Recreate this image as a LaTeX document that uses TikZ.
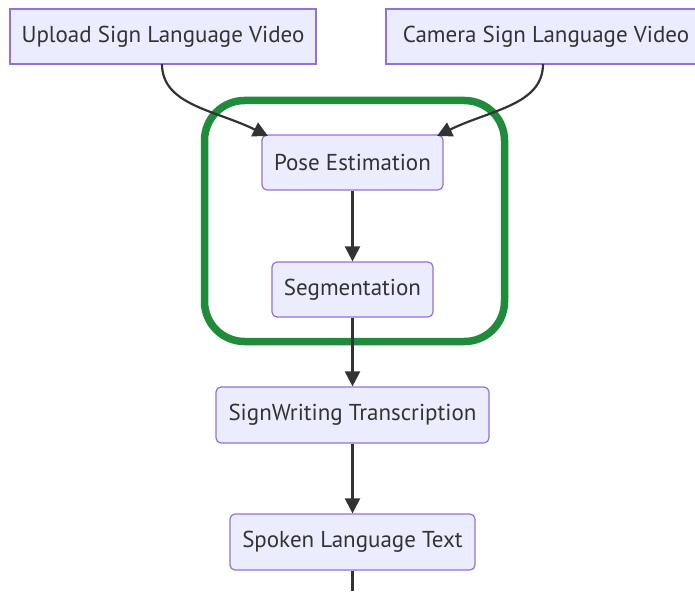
\documentclass[tikz,border=0pt]{standalone}
\usepackage{fontspec}
\setmainfont{PT Sans}
\usetikzlibrary{arrows.meta}
\definecolor{nodefill}{HTML}{ECECFF}
\definecolor{nodeline}{HTML}{9370DB}
\definecolor{edgecol}{HTML}{333333}
\definecolor{groupgreen}{HTML}{1E8C3A}
\begin{document}
\begin{tikzpicture}[x=1pt,y=-1pt,
  box/.style={draw=nodeline,fill=nodefill,line width=1.2pt,text=edgecol,
    font=\fontsize{23}{27}\selectfont,inner sep=0pt,anchor=center},
  rbox/.style={box,rounded corners=5pt},
  edge/.style={draw=edgecol,line width=2.2pt,-{Triangle[length=15pt,width=15pt]}}]
\useasboundingbox (0,0) rectangle (695,591);
\fill[white] (0,0) rectangle (695,591);
\node[box,minimum width=306pt,minimum height=55pt] (up) at (163,36.5) {Upload Sign Language Video};
\node[box,minimum width=320pt,minimum height=55pt] (cam) at (546,36.5) {Camera Sign Language Video};
\draw[groupgreen,line width=7.5pt,rounded corners=40pt] (204.5,100.5) rectangle (504.5,341.5);
\node[rbox,minimum width=181pt,minimum height=55pt] (pose) at (352.5,162.5) {Pose Estimation};
\node[rbox,minimum width=161pt,minimum height=55pt] (seg) at (352.5,289.5) {Segmentation};
\node[rbox,minimum width=273pt,minimum height=56pt] (sw) at (352.5,415) {SignWriting Transcription};
\node[rbox,minimum width=245pt,minimum height=56pt] (spoken) at (352.5,542) {Spoken Language Text};
\coordinate (out) at (352.5,591);
\draw[edge] (162,64) .. controls (162,105) and (215,110) .. (268,136);
\draw[edge] (543,64) .. controls (543,105) and (490,110) .. (437,136);
\draw[edge] (pose) -- (seg);
\draw[edge] (seg) -- (sw);
\draw[edge] (sw) -- (spoken);
\draw[draw=edgecol,line width=2.2pt] (spoken.south) -- (out);
\end{tikzpicture}
\end{document}
